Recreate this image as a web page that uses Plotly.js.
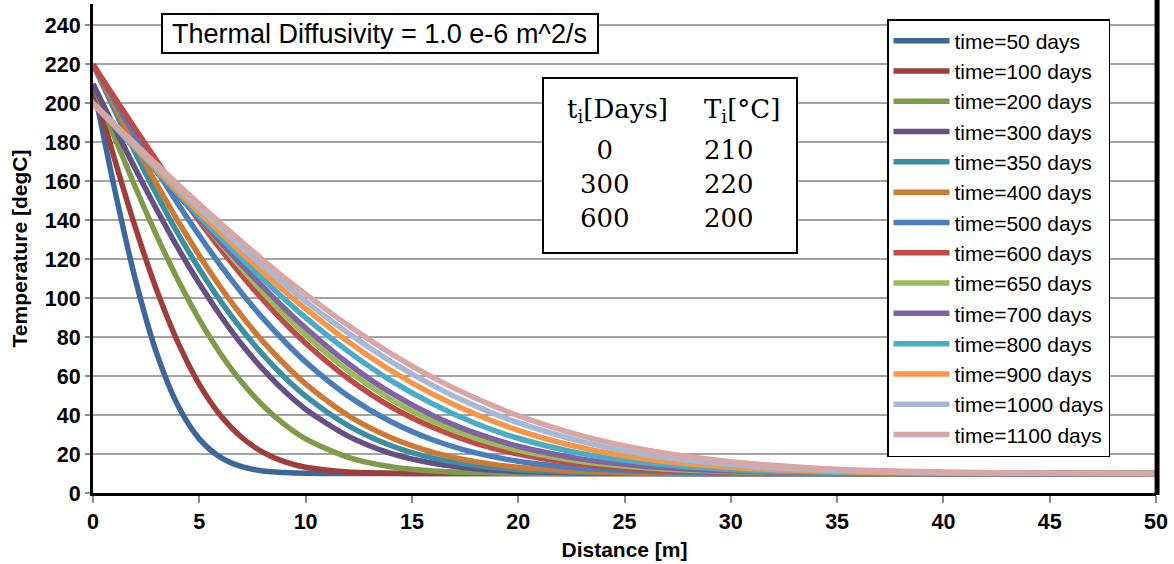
<!DOCTYPE html>
<html>
<head>
<meta charset="utf-8">
<script src="https://cdn.plot.ly/plotly-3.0.1.min.js"></script>
<style>html,body{margin:0;padding:0;background:#fff;}#chart{width:1174px;height:564px;}</style>
</head>
<body>
<div id="chart"></div>
<script>
// ---- data ----
const distance = [0,1,2,3,4,5,6,7,8,9,10,12,14,16,18,20,23,26,30,35,40,45,50];
const days = [50,100,200,300,350,400,500,600,650,700,800,900,1000,1100];
const t50   = [210,156.8,109.3,71.5,44.8,27.8,18.3,13.5,11.3,10.5,10.1,10,10,10,10,10,10,10,10,10,10,10,10];
const t100  = [210,172.0,136.1,104.1,77.2,55.8,39.8,28.5,20.9,16.1,13.2,10.8,10.2,10,10,10,10,10,10,10,10,10,10];
const t200  = [210,183.0,156.8,132.0,109.3,89.0,71.5,56.8,44.8,35.2,27.8,18.3,13.5,11.3,10.5,10.1,10,10,10,10,10,10,10];
const t300  = [210,187.9,166.2,145.4,125.7,107.5,91.0,76.2,63.4,52.3,43.0,29.2,20.4,15.3,12.5,11.1,10.3,10.1,10,10,10,10,10];
const t350  = [220,196.8,174.4,153.1,133.1,115.0,98.5,83.9,70.9,59.5,49.7,34.6,24.4,17.9,14.2,12.0,10.6,10.2,10,10,10,10,10];
const t400  = [220,199.0,178.3,158.4,139.5,121.9,105.6,90.9,77.7,66.2,56.0,39.8,28.5,20.9,16.1,13.2,11.2,10.4,10.1,10,10,10,10];
const t500  = [220,201.6,183.2,165.5,148.4,132.2,116.8,102.6,89.6,77.9,67.3,49.8,36.7,27.2,20.6,16.3,12.7,11.1,10.2,10,10,10,10];
const t600  = [220,203.3,186.7,170.5,154.7,139.6,125.2,111.7,99.1,87.5,76.9,58.8,44.4,33.6,25.5,20.0,14.8,12.1,10.7,10.1,10,10,10];
const t650  = [200,189.3,178.2,166.2,153.8,140.9,127.9,115.2,103.0,91.6,81.1,62.8,48.1,36.7,28.1,22.0,16.1,12.9,10.9,10.2,10,10,10];
const t700  = [200,188.3,176.7,164.8,152.8,140.8,128.8,117.1,105.8,94.9,84.7,66.5,51.5,39.7,30.7,24.0,17.4,13.7,11.3,10.3,10,10,10];
const t800  = [200,188.3,176.6,165.0,153.6,142.1,131.0,120.2,109.7,99.6,90.0,72.7,57.8,45.6,35.7,28.1,20.2,15.5,12.1,10.6,10.1,10,10];
const t900  = [200,188.6,177.3,166.2,155.0,144.1,133.6,123.2,113.3,103.7,94.6,77.7,63.0,50.6,40.4,32.2,23.2,17.5,13.2,11.0,10.3,10.1,10];
const t1000 = [200,189.1,178.2,167.4,156.8,146.3,136.2,126.1,116.6,107.3,98.4,82.1,67.6,55.1,44.6,36.1,26.4,19.8,14.6,11.6,10.5,10.1,10];
const t1100 = [200,189.4,179.0,168.6,158.4,148.3,138.4,128.9,119.6,110.5,102.1,86.1,71.7,59.2,48.6,39.7,29.3,22.1,16.1,12.2,10.8,10.2,10.1];
const xTicks = [0,5,10,15,20,25,30,35,40,45,50];
const yTicks = [0,20,40,60,80,100,120,140,160,180,200,220,240];
const tableDays = [0,300,600];
const tableTemps = [210,220,200];
const diffusivityText = 'Thermal Diffusivity = 1.0 e-6 m^2/s';

const series = [t50,t100,t200,t300,t350,t400,t500,t600,t650,t700,t800,t900,t1000,t1100];
const colors = ['#3C679B','#9E3D3A','#7E9B48','#654F85','#3A8FA4','#CD7833','#4A7EBB','#BE4B48','#9BBB59','#7F63A2','#4BACC6','#F79646','#A5B8D6','#D8A6A5'];

const SANS = 'Liberation Sans, Arial, sans-serif';
const SERIF = 'DejaVu Serif, serif';

const traces = series.map((ys, i) => ({
  type: 'scatter', mode: 'lines',
  x: distance, y: ys,
  name: 'time=' + days[i] + ' days',
  legendgroup: 'g' + i,
  line: {color: colors[i], width: 5.5, shape: 'spline', smoothing: 0.8},
  hoverinfo: 'skip'
}));

// pixel helpers for paper placement of boxes (plot area: x 93..1156, y 4..493)
const PL = 93, PW = 1063, PT = 4, PH = 489;
const px = v => (v - PL) / PW;
const py = v => (PT + PH - v) / PH;

const layout = {
  width: 1174, height: 564,
  margin: {l: PL, r: 1174 - PL - PW, t: PT, b: 564 - PT - PH},
  paper_bgcolor: '#ffffff', plot_bgcolor: '#ffffff',
  showlegend: true,
  legend: {
    x: px(887), y: py(19), xanchor: 'left', yanchor: 'top',
    bgcolor: '#ffffff', bordercolor: '#000000', borderwidth: 1.5,
    font: {family: SANS, size: 21, color: '#000000'},
    tracegroupgap: 0, itemwidth: 56, traceorder: 'normal'
  },
  xaxis: {
    range: [0, 50], tickvals: xTicks, ticktext: xTicks.map(String),
    ticks: 'outside', ticklen: 7, tickwidth: 2, tickcolor: '#8c8c8c',
    showline: true, linecolor: '#000000', linewidth: 3,
    showgrid: false, zeroline: false,
    tickfont: {family: SANS, size: 21.5, color: '#000000', weight: 'bold'},
    title: {text: 'Distance [m]', font: {family: SANS, size: 21, color: '#000000', weight: 'bold'}, standoff: 10}
  },
  yaxis: {
    range: [0, 251], tickvals: yTicks, ticktext: yTicks.map(String),
    ticks: 'outside', ticklen: 5, tickwidth: 2, tickcolor: '#8c8c8c',
    showline: true, linecolor: '#000000', linewidth: 3,
    showgrid: true, gridcolor: '#a3a3a3', gridwidth: 2, zeroline: false,
    tickfont: {family: SANS, size: 21.5, color: '#000000', weight: 'bold'},
    title: {text: 'Temperature [degC]', font: {family: SANS, size: 21, color: '#000000', weight: 'bold'}, standoff: 12}
  },
  shapes: [
    {type: 'line', xref: 'paper', yref: 'paper', x0: 1.001, x1: 1.001, y0: -0.004, y1: 1.01, line: {color: '#000000', width: 5}},
    {type: 'rect', xref: 'paper', yref: 'paper', x0: px(162), x1: px(598), y0: py(53), y1: py(14), line: {color: '#000000', width: 2}, fillcolor: '#ffffff', layer: 'above'},
    {type: 'rect', xref: 'paper', yref: 'paper', x0: px(543), x1: px(797), y0: py(253), y1: py(78), line: {color: '#000000', width: 2}, fillcolor: '#ffffff', layer: 'above'}
  ],
  annotations: [
    {xref: 'paper', yref: 'paper', x: px(170), y: py(34), xanchor: 'left', yanchor: 'middle', showarrow: false,
     text: diffusivityText, font: {family: SANS, size: 27, color: '#000000'}},
    {xref: 'paper', yref: 'paper', x: px(617), y: py(110), xanchor: 'center', yanchor: 'middle', showarrow: false,
     text: 't<sub>i</sub>[Days]', font: {family: SERIF, size: 26, color: '#000000'}},
    {xref: 'paper', yref: 'paper', x: px(742), y: py(110), xanchor: 'center', yanchor: 'middle', showarrow: false,
     text: 'T<sub>i</sub>[°C]', font: {family: SERIF, size: 26, color: '#000000'}},
    {xref: 'paper', yref: 'paper', x: px(605), y: py(184), xanchor: 'center', yanchor: 'middle', showarrow: false, align: 'center',
     text: tableDays.map(String).join('<br>'), font: {family: SERIF, size: 26, color: '#000000'}},
    {xref: 'paper', yref: 'paper', x: px(729), y: py(184), xanchor: 'center', yanchor: 'middle', showarrow: false, align: 'center',
     text: tableTemps.map(String).join('<br>'), font: {family: SERIF, size: 26, color: '#000000'}}
  ]
};

Plotly.newPlot('chart', traces, layout, {displayModeBar: false, staticPlot: true});
</script>
</body>
</html>
